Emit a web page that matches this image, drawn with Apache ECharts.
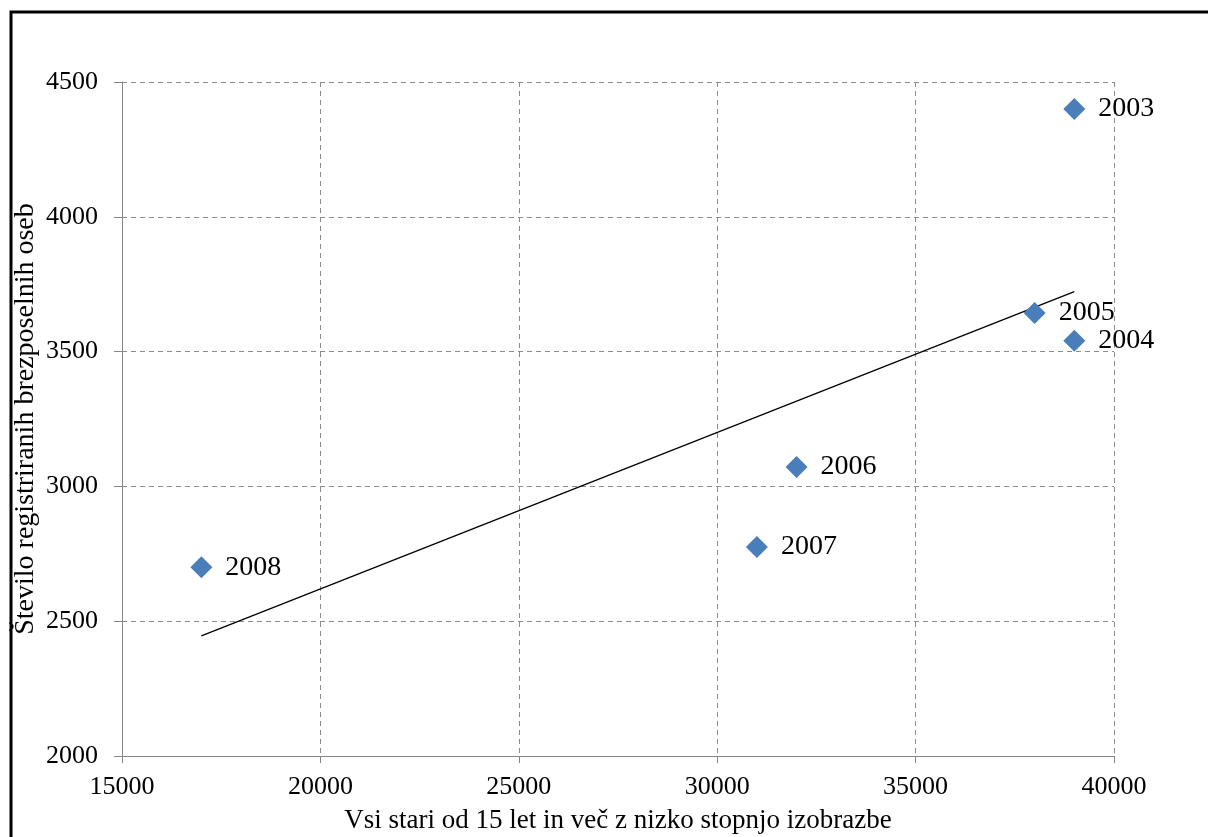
<!DOCTYPE html>
<html>
<head>
<meta charset="utf-8">
<script src="https://cdn.jsdelivr.net/npm/echarts@6/dist/echarts.min.js"></script>
<style>
html,body{margin:0;padding:0;background:#fff;}
#chart{width:1208px;height:837px;}
</style>
</head>
<body>
<div id="chart"></div>
<script>
const years = ['2003', '2004', '2005', '2006', '2007', '2008'];
const xValues = [39000, 39000, 38000, 32000, 31000, 17000];
const yValues = [4400, 3540, 3643, 3072, 2775, 2700];
const xTitle = 'Vsi stari od 15 let in več z nizko stopnjo izobrazbe';
const yTitle = 'Število registriranih brezposelnih oseb';

// linear trendline (least squares) computed from the data
const n = xValues.length;
const mx = xValues.reduce((a, b) => a + b, 0) / n;
const my = yValues.reduce((a, b) => a + b, 0) / n;
let sxy = 0, sxx = 0;
for (let i = 0; i < n; i++) { sxy += (xValues[i] - mx) * (yValues[i] - my); sxx += (xValues[i] - mx) ** 2; }
const slope = sxy / sxx, icpt = my - slope * mx;
const xMin = Math.min(...xValues), xMax = Math.max(...xValues);
const trend = [[xMin, icpt + slope * xMin], [xMax, icpt + slope * xMax]];

const font = 'Liberation Serif';
const chart = echarts.init(document.getElementById('chart'), null, {renderer: 'canvas'});
chart.setOption({
  animation: false,
  backgroundColor: '#fff',
  grid: {left: 122, right: 94, top: 82, bottom: 81, containLabel: false, outerBoundsMode: 'none'},
  graphic: [{
    type: 'rect', shape: {x: 11, y: 12, width: 1230, height: 860},
    style: {fill: 'none', stroke: '#000', lineWidth: 3}, z: 100
  }],
  xAxis: {
    type: 'value', min: 15000, max: 40000, interval: 5000,
    name: xTitle, nameLocation: 'middle', nameGap: 51, nameMoveOverlap: false,
    nameTextStyle: {fontFamily: font, fontSize: 27, color: '#000'},
    axisLine: {show: true, onZero: false, lineStyle: {color: '#868686', width: 1}},
    axisTick: {show: true, inside: false, length: 7, lineStyle: {color: '#868686'}},
    axisLabel: {fontFamily: font, fontSize: 26, color: '#000', margin: 18, formatter: v => String(v)},
    splitLine: {show: true, lineStyle: {color: '#8c8c8c', type: [5, 4], width: 1}}
  },
  yAxis: {
    type: 'value', min: 2000, max: 4500, interval: 500,
    name: yTitle, nameLocation: 'middle', nameGap: 82, nameRotate: 90, nameMoveOverlap: false,
    nameTextStyle: {fontFamily: font, fontSize: 28, color: '#000'},
    axisLine: {show: true, onZero: false, lineStyle: {color: '#868686', width: 1}},
    axisTick: {show: true, inside: false, length: 8, lineStyle: {color: '#868686'}},
    axisLabel: {fontFamily: font, fontSize: 26, color: '#000', margin: 24, formatter: v => String(v)},
    splitLine: {show: true, lineStyle: {color: '#8c8c8c', type: [5, 4], width: 1}}
  },
  series: [
    {
      type: 'line', data: trend, symbol: 'none', silent: true,
      lineStyle: {color: '#000', width: 1.3}, z: 3
    },
    {
      type: 'scatter', symbol: 'diamond', symbolSize: 22,
      data: xValues.map((x, i) => ({value: [x, yValues[i]], name: years[i]})),
      itemStyle: {color: '#4a7ebb', opacity: 1},
      label: {
        show: true, position: 'right', distance: 13,
        formatter: p => p.name,
        fontFamily: font, fontSize: 28, color: '#000'
      },
      z: 4
    }
  ]
});
</script>
</body>
</html>
